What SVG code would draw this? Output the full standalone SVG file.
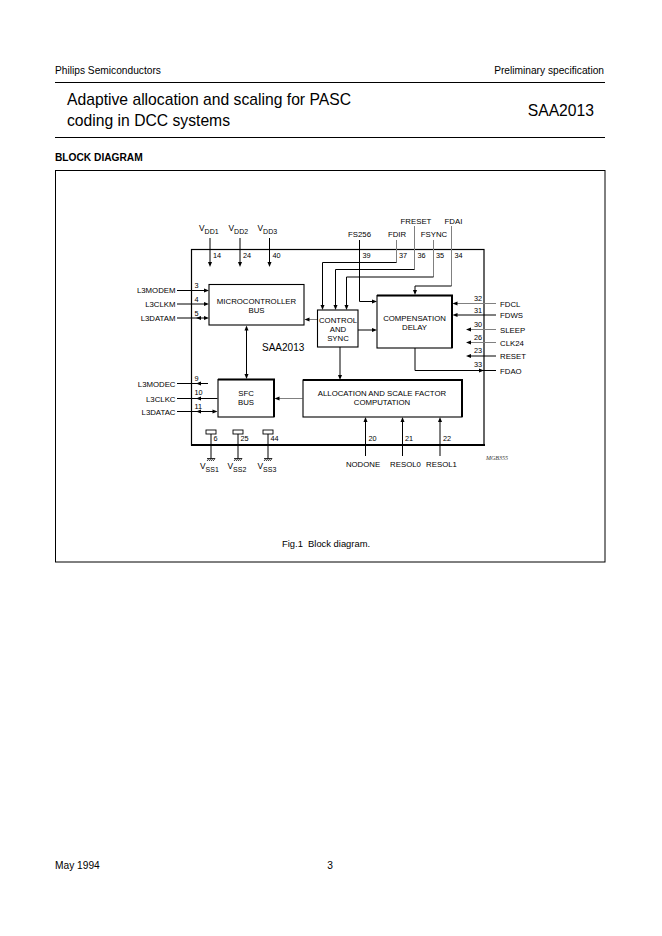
<svg xmlns="http://www.w3.org/2000/svg" xmlns:xlink="http://www.w3.org/1999/xlink" width="662" height="936" viewBox="0 0 662 936">
<style>
.ln{stroke:#000;stroke-width:1;fill:none}
.gl{stroke:#808080;stroke-width:1;fill:none}
.box{fill:#fff;stroke:#000;stroke-width:1.1}
.edge{stroke:#000;stroke-width:2;fill:none}
.t{font-family:"Liberation Sans",Arial,Helvetica,sans-serif;font-size:7.8px;fill:#000}
.n{font-family:"Liberation Sans",Arial,Helvetica,sans-serif;font-size:7.3px;fill:#000}
.v{font-family:"Liberation Sans",Arial,Helvetica,sans-serif;font-size:8.4px;fill:#000}
.s{font-size:7px}
.c{text-anchor:middle}
.e{text-anchor:end}
.hd{font-family:"Liberation Sans",Arial,Helvetica,sans-serif;fill:#000}
</style>
<defs>
<path id="ah" d="M0,0 L-5,-2 L-5,2 Z" fill="#000"/>
<g id="gnd"><path d="M-4,0 H4 M-2,0 L-4,2.5 M0,0 L-2,2.5 M2,0 L0,2.5 M4,0 L2,2.5" stroke="#000" stroke-width="0.8" fill="none"/></g>
</defs>
<rect width="662" height="936" fill="#fff"/>

<g id="header">
<text class="hd" x="55" y="74" font-size="10.2">Philips Semiconductors</text>
<text class="hd" x="604" y="74" font-size="10.2" text-anchor="end">Preliminary specification</text>
<line x1="55" y1="82.5" x2="605" y2="82.5" stroke="#000" stroke-width="1"/>
<text class="hd" x="67" y="105" font-size="15.7">Adaptive allocation and scaling for PASC</text>
<text class="hd" x="67" y="126" font-size="15.7">coding in DCC systems</text>
<text class="hd" x="594" y="116" font-size="15.7" text-anchor="end">SAA2013</text>
<line x1="55" y1="137.5" x2="605" y2="137.5" stroke="#000" stroke-width="1"/>
<text class="hd" x="55" y="161" font-size="10.2" font-weight="bold">BLOCK DIAGRAM</text>
</g>

<rect id="frame" x="55.5" y="170.5" width="549.5" height="391.5" fill="none" stroke="#000" stroke-width="1"/>

<g id="chip">
<rect x="191.5" y="249.5" width="292.5" height="195.5" fill="none" stroke="#000" stroke-width="1.2"/>
<line x1="191" y1="445" x2="485" y2="445" stroke="#000" stroke-width="2"/>
<text class="hd" x="262" y="350.5" font-size="10">SAA2013</text>
</g>

<g id="connectors">
<path class="ln" d="M210,238 V263 M240,238 V263 M269.5,238 V263"/>
<use xlink:href="#ah" transform="translate(210,267) rotate(90)"/>
<use xlink:href="#ah" transform="translate(240,267) rotate(90)"/>
<use xlink:href="#ah" transform="translate(269.5,267) rotate(90)"/>
<path class="ln" d="M177,290.5 H205 M177,304 H205 M177,318 H205"/>
<use xlink:href="#ah" transform="translate(209,290.5)"/>
<use xlink:href="#ah" transform="translate(209,304)"/>
<use xlink:href="#ah" transform="translate(209,318)"/>
<use xlink:href="#ah" transform="translate(196,318) rotate(180)"/>
<path class="ln" d="M246.5,329 V375"/>
<use xlink:href="#ah" transform="translate(246.5,325.5) rotate(-90)"/>
<use xlink:href="#ah" transform="translate(246.5,379) rotate(90)"/>
<path class="gl" d="M317.5,319.5 H308"/>
<use xlink:href="#ah" transform="translate(304.5,319.5) rotate(180)"/>
<path class="ln" d="M177,383.5 H208"/>
<path class="ln" d="M199,383.5 H208" stroke-width="1.8"/>
<path class="ln" d="M177,398.5 H217.5 M177,411.5 H213.5"/>
<use xlink:href="#ah" transform="translate(196,383.5) rotate(180)"/>
<use xlink:href="#ah" transform="translate(196,398.5) rotate(180)"/>
<use xlink:href="#ah" transform="translate(196,411.5) rotate(180)"/>
<use xlink:href="#ah" transform="translate(217.5,411.5)"/>
<path class="gl" d="M302.5,398.5 H278"/>
<use xlink:href="#ah" transform="translate(274.5,398.5) rotate(180)"/>
<path class="ln" d="M340,347 V376"/>
<use xlink:href="#ah" transform="translate(340,380) rotate(90)"/>
<path class="ln" d="M358,330 H373"/>
<use xlink:href="#ah" transform="translate(377,330)"/>
<path class="ln" d="M359.5,240 V301.5 H373"/>
<use xlink:href="#ah" transform="translate(377,301.5)"/>
<path class="gl" d="M396.5,240 V262.5"/>
<path class="ln" d="M396.5,262.5 H322.5 V306"/>
<use xlink:href="#ah" transform="translate(322.5,310) rotate(90)"/>
<path class="gl" d="M414.5,226 V269.5"/>
<path class="ln" d="M414.5,269.5 H335.5 V306"/>
<use xlink:href="#ah" transform="translate(335.5,310) rotate(90)"/>
<path class="gl" d="M433.5,240 V277"/>
<path class="ln" d="M433.5,277 H346.5 V306"/>
<use xlink:href="#ah" transform="translate(346.5,310) rotate(90)"/>
<path class="gl" d="M451.5,226 V286"/>
<path class="ln" d="M451.5,286 H415 V291"/>
<use xlink:href="#ah" transform="translate(415,295) rotate(90)"/>
<path class="gl" d="M496,303.5 H456"/>
<use xlink:href="#ah" transform="translate(452.5,303.5) rotate(180)"/>
<path class="ln" d="M496,315 H456"/>
<use xlink:href="#ah" transform="translate(452.5,315) rotate(180)"/>
<path class="gl" d="M496,329.5 H470 M496,342.5 H470"/>
<path class="ln" d="M496,356 H470"/>
<use xlink:href="#ah" transform="translate(466,329.5) rotate(180)"/>
<use xlink:href="#ah" transform="translate(466,342.5) rotate(180)"/>
<use xlink:href="#ah" transform="translate(466,356) rotate(180)"/>
<path class="ln" d="M415,348 V370.5 H496"/>
<use xlink:href="#ah" transform="translate(484,370.5)"/>
<path class="ln" d="M365.5,456 V421 M402.5,456 V421 M440,456 V421"/>
<use xlink:href="#ah" transform="translate(365.5,417) rotate(-90)"/>
<use xlink:href="#ah" transform="translate(402.5,417) rotate(-90)"/>
<use xlink:href="#ah" transform="translate(440,417) rotate(-90)"/>
<g fill="none" stroke="#000" stroke-width="0.9">
<rect x="206" y="430" width="10" height="4"/>
<rect x="233" y="430" width="10" height="4"/>
<rect x="263" y="430" width="10" height="4"/>
</g>
<path class="ln" d="M211,434 V458.5 M238,434 V458.5 M268,434 V458.5"/>
<use xlink:href="#gnd" transform="translate(211,458.5)"/>
<use xlink:href="#gnd" transform="translate(238,458.5)"/>
<use xlink:href="#gnd" transform="translate(268,458.5)"/>
</g>

<g id="microcontroller-bus">
<rect class="box" x="209" y="284.5" width="95" height="40.5"/>
<text class="t c" x="256.5" y="303.5">MICROCONTROLLER</text>
<text class="t c" x="256.5" y="312.5">BUS</text>
</g>
<g id="control-and-sync">
<rect class="box" x="317.5" y="310" width="40.5" height="37"/>
<text class="t c" x="338" y="323">CONTROL</text>
<text class="t c" x="338" y="332">AND</text>
<text class="t c" x="338" y="341">SYNC</text>
</g>
<g id="compensation-delay">
<rect class="box" x="377" y="295.5" width="75" height="52.5"/>
<path class="edge" d="M377,295.5 H452 V348"/>
<text class="t c" x="414.5" y="321">COMPENSATION</text>
<text class="t c" x="414.5" y="330">DELAY</text>
</g>
<g id="sfc-bus">
<rect class="box" x="218" y="379.5" width="56" height="37.5"/>
<path class="edge" d="M218,379.5 H274 V417"/>
<text class="t c" x="246" y="396">SFC</text>
<text class="t c" x="246" y="405">BUS</text>
</g>
<g id="allocation">
<rect class="box" x="303" y="380" width="159" height="37"/>
<path class="edge" d="M303,380 H462 V417"/>
<text class="t c" x="382" y="396">ALLOCATION AND SCALE FACTOR</text>
<text class="t c" x="382" y="405">COMPUTATION</text>
</g>

<g id="pin-labels">
<text class="v" x="199" y="231">V<tspan class="s" dy="3">DD1</tspan></text>
<text class="v" x="228.5" y="231">V<tspan class="s" dy="3">DD2</tspan></text>
<text class="v" x="257.5" y="231">V<tspan class="s" dy="3">DD3</tspan></text>
<text class="n" x="213" y="258">14</text>
<text class="n" x="243" y="258">24</text>
<text class="n" x="272.5" y="258">40</text>
<text class="t c" x="359.5" y="237">FS256</text>
<text class="t c" x="397" y="237">FDIR</text>
<text class="t c" x="416" y="224">FRESET</text>
<text class="t c" x="434" y="237">FSYNC</text>
<text class="t c" x="453.5" y="224">FDAI</text>
<text class="n" x="362.5" y="258">39</text>
<text class="n" x="399" y="258">37</text>
<text class="n" x="417.5" y="258">36</text>
<text class="n" x="436" y="258">35</text>
<text class="n" x="454.5" y="258">34</text>
<text class="t e" x="175.5" y="293">L3MODEM</text>
<text class="t e" x="175.5" y="307">L3CLKM</text>
<text class="t e" x="175.5" y="321">L3DATAM</text>
<text class="t e" x="175.5" y="386.5">L3MODEC</text>
<text class="t e" x="175.5" y="401.5">L3CLKC</text>
<text class="t e" x="175.5" y="414.5">L3DATAC</text>
<text class="n" x="194.5" y="288">3</text>
<text class="n" x="194.5" y="301.5">4</text>
<text class="n" x="194.5" y="315.5">5</text>
<text class="n" x="194.5" y="380.5">9</text>
<text class="n" x="194.5" y="394.5">10</text>
<text class="n" x="194.5" y="408.5">11</text>
<text class="t" x="500" y="306.5">FDCL</text>
<text class="t" x="500" y="318">FDWS</text>
<text class="t" x="500" y="332.5">SLEEP</text>
<text class="t" x="500" y="345.5">CLK24</text>
<text class="t" x="500" y="359">RESET</text>
<text class="t" x="500" y="373.5">FDAO</text>
<text class="n e" x="482" y="300.5">32</text>
<text class="n e" x="482" y="312.5">31</text>
<text class="n e" x="482" y="326.5">30</text>
<text class="n e" x="482" y="339.5">26</text>
<text class="n e" x="482" y="353">23</text>
<text class="n e" x="482" y="367">33</text>
<text class="n" x="368.5" y="441">20</text>
<text class="n" x="405" y="441">21</text>
<text class="n" x="443" y="441">22</text>
<text class="n" x="213.5" y="441">6</text>
<text class="n" x="240.5" y="441">25</text>
<text class="n" x="270.5" y="441">44</text>
<text class="t c" x="363" y="467">NODONE</text>
<text class="t c" x="405.5" y="467">RESOL0</text>
<text class="t c" x="441.5" y="467">RESOL1</text>
<text class="v" x="200" y="469">V<tspan class="s" dy="3">SS1</tspan></text>
<text class="v" x="227.5" y="469">V<tspan class="s" dy="3">SS2</tspan></text>
<text class="v" x="257.5" y="469">V<tspan class="s" dy="3">SS3</tspan></text>
<text x="486" y="459.5" font-family="Liberation Serif,serif" font-style="italic" font-size="6" fill="#333">MGB355</text>
</g>

<text class="hd" x="282" y="547" font-size="9.4" xml:space="preserve" style="white-space:pre">Fig.1  Block diagram.</text>

<g id="footer">
<text class="hd" x="55" y="869" font-size="10.2">May 1994</text>
<text class="hd" x="330" y="869" font-size="10.2" text-anchor="middle">3</text>
</g>
</svg>
